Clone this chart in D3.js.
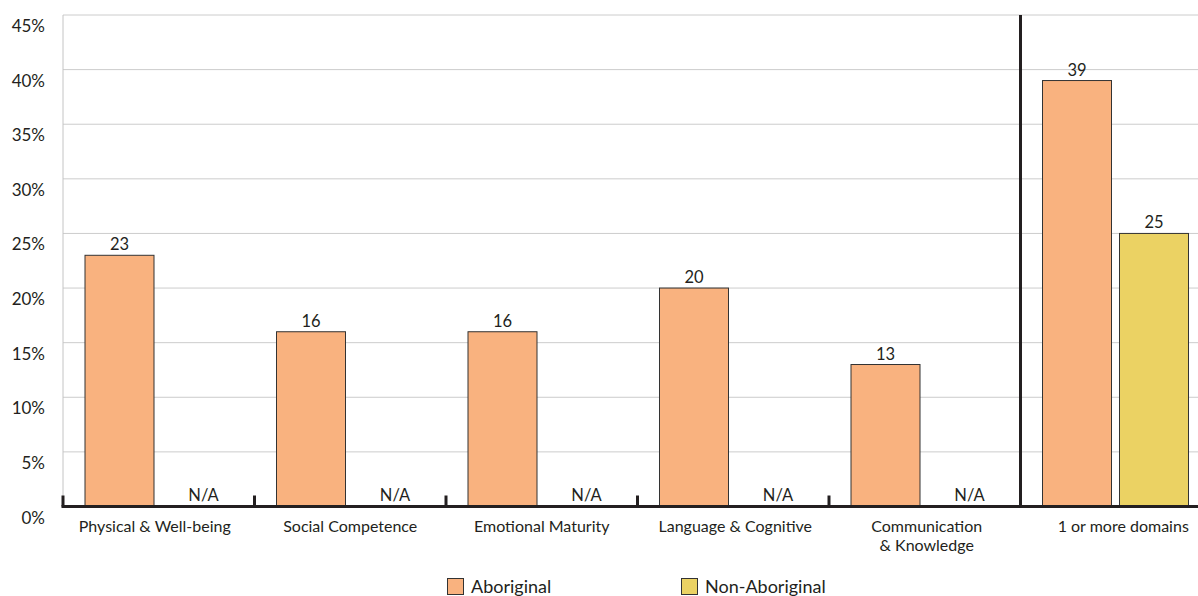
<!DOCTYPE html>
<html>
<head>
<meta charset="utf-8">
<script src="https://cdn.jsdelivr.net/npm/d3@7"></script>
<style>
  html, body { margin: 0; padding: 0; background: #fff; }
  svg { display: block; font-family: Lato, "Open Sans", sans-serif; }
</style>
</head>
<body>
<svg id="chart" width="1198" height="596"></svg>
<script>
// ---- data ----
const categories = [
  "Physical & Well-being",
  "Social Competence",
  "Emotional Maturity",
  "Language & Cognitive",
  "Communication\n& Knowledge",
  "1 or more domains"
];
const seriesNames = ["Aboriginal", "Non-Aboriginal"];
const aboriginal = [23, 16, 16, 20, 13, 39];
const nonAboriginal = [null, null, null, null, null, 25];
const yTicks = [0, 5, 10, 15, 20, 25, 30, 35, 40, 45];
const missingLabel = "N/A";

// ---- layout ----
const plotLeft = 63, plotRight = 1198, plotTop = 15, plotBase = 506.5;
const bandW = 191.5;
const colors = { "Aboriginal": "#F9B27F", "Non-Aboriginal": "#EBD263" };
const dark = "#231f20";

const svg = d3.select("#chart");

const y = d3.scaleLinear().domain([0, 45]).range([plotBase, plotTop]);
const x0 = d3.scaleBand().domain(categories).range([plotLeft, plotLeft + bandW * categories.length]).padding(0);
const x1 = d3.scaleBand().domain(seriesNames).range([22, 22 + 69 * 2 + 8]).paddingInner(8 / 77).paddingOuter(0);

// gridlines
svg.append("g").selectAll("line").data(yTicks.filter(d => d > 0)).join("line")
  .attr("x1", plotLeft).attr("x2", plotRight)
  .attr("y1", d => y(d)).attr("y2", d => y(d))
  .attr("stroke", "#cccccc").attr("stroke-width", 1);

// left light axis line
svg.append("line").attr("x1", plotLeft).attr("x2", plotLeft).attr("y1", y(45)).attr("y2", plotBase)
  .attr("stroke", "#c4c4c4").attr("stroke-width", 1);

// y tick labels (below gridlines)
svg.append("g").selectAll("text").data(yTicks).join("text")
  .attr("x", 45).attr("y", d => y(d) + 17)
  .attr("text-anchor", "end")
  .attr("font-size", 17).attr("fill", "#231f20")
  .text(d => d + "%");

// bars
const rows = categories.map((c, i) => ({ cat: c, values: [
  { s: "Aboriginal", v: aboriginal[i] },
  { s: "Non-Aboriginal", v: nonAboriginal[i] }
]}));

const g = svg.append("g").selectAll("g").data(rows).join("g")
  .attr("transform", d => `translate(${x0(d.cat)},0)`);

g.selectAll("rect").data(d => d.values.filter(v => v.v != null)).join("rect")
  .attr("x", d => x1(d.s)).attr("width", x1.bandwidth())
  .attr("y", d => y(d.v)).attr("height", d => plotBase - y(d.v))
  .attr("fill", d => colors[d.s]).attr("stroke", "#333").attr("stroke-width", 1);

g.selectAll("text.val").data(d => d.values.filter(v => v.v != null)).join("text")
  .attr("class", "val")
  .attr("x", d => x1(d.s) + x1.bandwidth() / 2).attr("y", d => y(d.v) - 5)
  .attr("text-anchor", "middle").attr("font-size", 16.5).attr("fill", "#231f20")
  .text(d => d.v);

g.selectAll("text.na").data(d => d.values.filter(v => v.v == null)).join("text")
  .attr("class", "na")
  .attr("x", d => x1(d.s) + x1.bandwidth() / 2 + 7).attr("y", plotBase - 6)
  .attr("text-anchor", "middle").attr("font-size", 16.5).attr("fill", "#231f20")
  .text(missingLabel);

// bottom axis
svg.append("line").attr("x1", plotLeft - 1.5).attr("x2", plotRight).attr("y1", plotBase).attr("y2", plotBase)
  .attr("stroke", dark).attr("stroke-width", 3);

// separator ticks
svg.append("g").selectAll("line").data(categories.slice(0, 5)).join("line")
  .attr("x1", d => x0(d)).attr("x2", d => x0(d))
  .attr("y1", plotBase - 11).attr("y2", plotBase)
  .attr("stroke", dark).attr("stroke-width", 3);

// heavy divider before last category
const divX = x0(categories[5]);
svg.append("line").attr("x1", divX).attr("x2", divX).attr("y1", y(45)).attr("y2", plotBase)
  .attr("stroke", dark).attr("stroke-width", 3);

// category labels
const labelShift = [-4, 0, 0, 2, 2, 7];
const cl = svg.append("g").selectAll("text").data(categories).join("text")
  .attr("y", 532)
  .attr("text-anchor", "middle").attr("font-size", 16).attr("fill", "#231f20");
cl.each(function(d, i) {
  const lines = d.split("\n");
  d3.select(this).selectAll("tspan").data(lines).join("tspan")
    .attr("x", x0(d) + bandW / 2 + labelShift[i])
    .attr("dy", (l, j) => j === 0 ? 0 : 19)
    .text(l => l);
});

// legend
const legendX = [447, 681];
const lg = svg.append("g").selectAll("g").data(seriesNames).join("g")
  .attr("transform", (d, i) => `translate(${legendX[i]},578)`);
lg.append("rect").attr("x", 0.5).attr("y", 0.5).attr("width", 16).attr("height", 16)
  .attr("fill", d => colors[d]).attr("stroke", "#333").attr("stroke-width", 1);
lg.append("text").attr("x", 24).attr("y", 15)
  .attr("font-size", 18).attr("fill", "#231f20").text(d => d);
</script>
</body>
</html>
